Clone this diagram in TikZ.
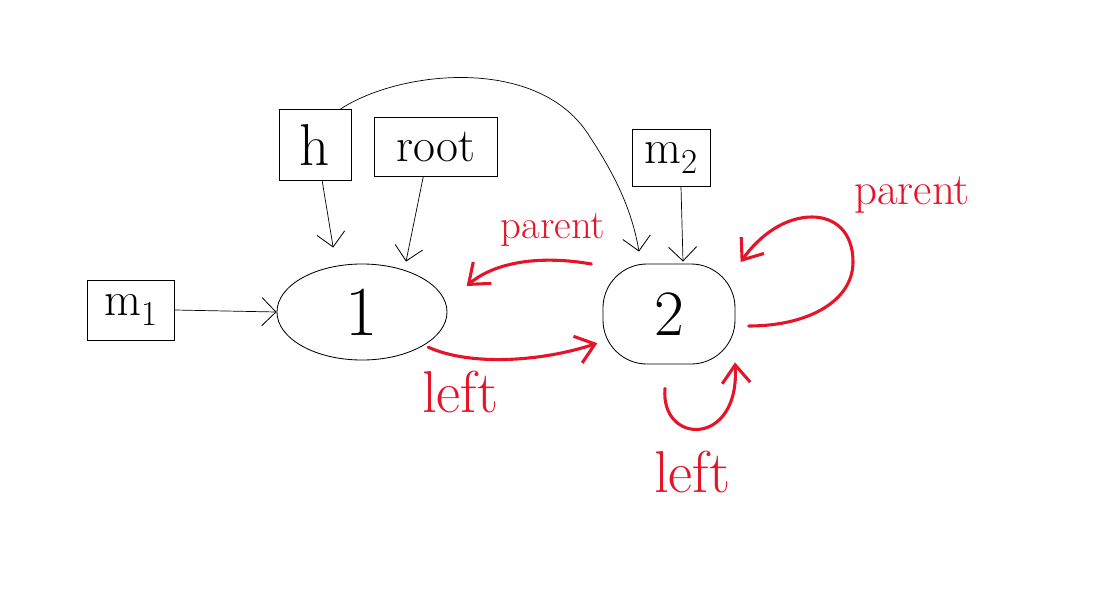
\documentclass[tikz,border=0pt]{standalone}
\usetikzlibrary{arrows.meta,shapes.geometric}
\definecolor{inkred}{RGB}{230,20,40}
\begin{document}
\begin{tikzpicture}[x=0.025cm,y=-0.025cm,
  box/.style={draw,line width=0.6pt,inner sep=0pt},
  blk/.style={line width=0.5pt,-{Straight Barb[length=3.5mm,width=7mm,line width=0.6pt]}},
  redarr/.style={inkred,line width=2.2pt,line cap=round,-{Straight Barb[length=4.5mm,width=7mm]}},
  redlbl/.style={inkred,font=\fontsize{29}{32}\selectfont}]
\useasboundingbox (0,0) rectangle (1094,612);
% boxes
\node[box,minimum width=1.8cm,minimum height=1.78cm,font=\fontsize{42}{46}\selectfont] (h) at (315,145) {h};
\node[box,minimum width=3.08cm,minimum height=1.48cm,font=\fontsize{34}{38}\selectfont] (root) at (436,147) {root};
\node[box,minimum width=1.95cm,minimum height=1.43cm,font=\fontsize{34}{38}\selectfont] (m2) at (671,158) {m$_2$};
\node[box,minimum width=2.18cm,minimum height=1.5cm,font=\fontsize{34}{38}\selectfont] (m1) at (131,310) {m$_1$};
% nodes
\node[draw,ellipse,line width=0.6pt,minimum width=4.25cm,minimum height=2.4cm,inner sep=0pt,font=\fontsize{50}{54}\selectfont] (one) at (362,312) {1};
\node[draw,rounded corners=1.1cm,line width=0.6pt,minimum width=3.3cm,minimum height=2.5cm,inner sep=0pt,font=\fontsize{46}{50}\selectfont] (two) at (669,314) {2};
% black arrows
\draw[blk] ([xshift=0.18cm]h.south) -- ([xshift=-0.72cm,yshift=0.4cm]one.north);
\draw[blk] ([xshift=-0.32cm]root.south) -- ([xshift=1.1cm,yshift=0.05cm]one.north);
\draw[blk] (m1.east) -- (one.west);
\draw[blk] ([xshift=0.25cm]m2.south) -- ([xshift=0.35cm,yshift=0.05cm]two.north);
\draw[blk] ([xshift=-0.27cm]h.north east) .. controls (400,70) and (540,55) .. (590,137)
   .. controls (615,175) and (632,210) .. ([xshift=-0.75cm,yshift=0.3cm]two.north);
% red arrows
\draw[redarr] ([xshift=-0.28cm,yshift=1.25cm]two.west) .. controls (540,255) and (495,262) .. ([xshift=0.48cm,yshift=0.65cm]one.east);
\draw[redarr] ([xshift=-0.48cm,yshift=-0.88cm]one.east) .. controls (470,366) and (540,362) .. ([xshift=-0.13cm,yshift=-0.73cm]two.west);
\draw[redarr] ([xshift=0.33cm,yshift=-0.3cm]two.east) .. controls (810,326) and (853,300) .. (853,262)
   .. controls (853,232) and (835,217) .. (812,217)
   .. controls (785,217) and (760,235) .. ([xshift=0.13cm,yshift=1.3cm]two.east);
\draw[redarr] ([xshift=-0.1cm,yshift=-0.6cm]two.south) .. controls (660,445) and (740,448) .. ([xshift=1.65cm,yshift=0.05cm]two.south);
% labels
\node[redlbl] (lp1) at (553,230) {parent};
\node[redlbl,font=\fontsize{42}{46}\selectfont] (ll1) at (460,392) {left};
\node[redlbl,font=\fontsize{32}{36}\selectfont] (lp2) at (912,195) {parent};
\node[redlbl,font=\fontsize{42}{46}\selectfont] (ll2) at (692,472) {left};
\end{tikzpicture}
\end{document}
